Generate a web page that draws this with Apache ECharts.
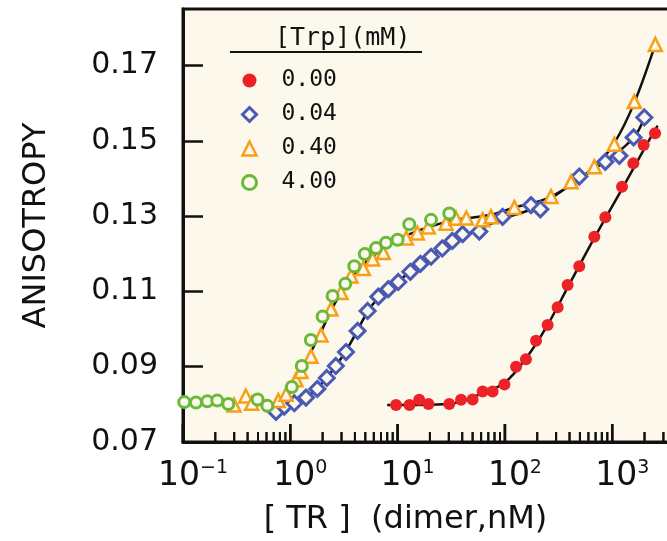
<!DOCTYPE html>
<html><head><meta charset="utf-8">
<script src="https://cdn.jsdelivr.net/npm/echarts@6/dist/echarts.min.js"></script>
<style>html,body{margin:0;padding:0;background:#fff}#c{width:667px;height:541px}</style>
</head><body><div id="c"></div>
<script>
// ---- data ----
const seriesNames = ['0.00', '0.04', '0.40', '4.00'];
const legendTitle = '[Trp](mM)';
const yTicks = [0.07, 0.09, 0.11, 0.13, 0.15, 0.17];
const xTicks = [0.1, 1, 10, 100, 1000];
const xExponents = ['\u22121', '0', '1', '2', '3'];
const xMinorTicks = [0.2,0.3,0.4,0.5,0.6,0.7,0.8,0.9, 2,3,4,5,6,7,8,9, 20,30,40,50,60,70,80,90, 200,300,400,500,600,700,800,900, 2000,3000];

const trp000 = [[9.66,0.0798],[12.9,0.0798],[15.9,0.0812],[19.4,0.0801],[30.3,0.0801],[39.0,0.0812],[50.0,0.0813],[62.0,0.0834],[76.8,0.0834],[98.9,0.0853],[127,0.0900],[157,0.0920],[195,0.0969],[250,0.1011],[310,0.1058],[384,0.1117],[493,0.1167],[681,0.1245],[863,0.1297],[1234,0.1378],[1574,0.1440],[1963,0.1489],[2506,0.1520]];
const trp004 = [[0.736,0.0780],[0.879,0.0794],[1.090,0.0803],[1.401,0.0818],[1.785,0.0841],[2.189,0.0870],[2.655,0.0902],[3.305,0.0939],[4.239,0.0995],[5.253,0.1048],[6.610,0.1086],[8.19,0.1106],[10.15,0.1125],[13.14,0.1152],[16.28,0.1173],[20.48,0.1192],[26.10,0.1214],[32.35,0.1234],[40.35,0.1252],[57.7,0.1259],[95.2,0.1298],[175.1,0.1329],[213.8,0.1318],[493.6,0.1405],[862.4,0.1444],[1164.6,0.1460],[1583,0.1509],[1992,0.1562]];
const trp040 = [[0.2987,0.0798],[0.3848,0.0822],[0.4377,0.0803],[0.7730,0.0810],[0.9138,0.0827],[1.130,0.0865],[1.258,0.0887],[1.559,0.0928],[1.932,0.0984],[2.394,0.1053],[2.969,0.1097],[3.679,0.1141],[4.788,0.1161],[5.848,0.1186],[7.357,0.1203],[12.05,0.1242],[15.26,0.1255],[19.32,0.1271],[28.26,0.1281],[35.02,0.1294],[43.69,0.1295],[61.96,0.1290],[74.23,0.1298],[122.4,0.1323],[268.9,0.1352],[413.0,0.1391],[681.1,0.1431],[1046,0.1491],[1607,0.1604],[2522,0.1756]];
const trp400 = [[0.1028,0.0806],[0.1322,0.0805],[0.1684,0.0808],[0.2088,0.0810],[0.2644,0.0801],[0.4956,0.0813],[0.6104,0.0796],[1.033,0.0846],[1.280,0.0902],[1.553,0.0971],[2.000,0.1033],[2.479,0.1088],[3.255,0.1120],[3.949,0.1167],[4.947,0.1199],[6.292,0.1215],[7.797,0.1229],[10.0,0.1237],[12.85,0.1278],[20.48,0.1290],[30.33,0.1307]];

// fitted curves
const fit000 = [[8.0,0.0798],[30,0.0801],[60,0.0828],[100,0.0858],[160,0.0925],[250,0.1011],[400,0.1120],[700,0.1248],[1250,0.1375],[2000,0.1480],[2650,0.1540]];
const fit004 = [[0.665,0.0777],[0.88,0.0794],[1.1,0.0803],[1.4,0.0818],[1.8,0.0843],[2.65,0.0902],[3.3,0.0942],[4.2,0.0995],[5.25,0.1046],[6.6,0.1082],[10,0.1125],[16,0.1172],[26,0.1214],[40,0.1245],[95,0.1292],[200,0.1325],[500,0.1400],[1000,0.1458],[1600,0.1510],[2000,0.1562]];
const fit040 = [[0.84,0.0800],[1.0,0.0832],[1.13,0.0865],[1.26,0.0893],[1.56,0.0940],[1.95,0.0995],[2.4,0.1050],[3.0,0.1098],[3.7,0.1138],[4.8,0.1172],[6,0.1195],[8,0.1220],[12,0.1248],[20,0.1272],[35,0.1290],[70,0.1302],[120,0.1322],[270,0.1352],[680,0.1430],[1050,0.1495],[1600,0.1600],[2520,0.1756]];

// ---- style / layout ----
const cream = '#fcf8ec';
const red = '#ec2227', blue = '#4a59b3', orange = '#f6a019', green = '#69b93a';
const font = 'DejaVu Sans';
const X_MIN = 0.1, X_MAX = 3606, Y_MIN = 0.07, Y_MAX = 0.185;
const GRID = {left: 183, top: 9, width: 489, height: 433};
const MAJOR_LEN = 18, MINOR_LEN = 10;   // tick lengths in px

const chart = echarts.init(document.getElementById('c'), null, {renderer: 'canvas'});

function fitSeries(name, data) {
  return {name: name, type: 'line', data: data, smooth: 0.35, showSymbol: false, silent: true, z: 2,
          lineStyle: {color: '#111', width: 2.5}};
}
// tick marks as broken line segments, positioned by the log x scale; pixel length -> y units
function tickLineSeries(name, values, lenPx, width) {
  const dy = lenPx * (Y_MAX - Y_MIN) / GRID.height;
  const data = [];
  values.forEach(function (v) { data.push([v, Y_MIN], [v, Y_MIN + dy], [v, '-']); });
  return {name: name, type: 'line', data: data, showSymbol: false, silent: true, clip: false,
          connectNulls: false, z: 3, lineStyle: {color: '#111', width: width, cap: 'butt'}};
}
const underline = {type: 'line', shape: {x1: 230, y1: 52, x2: 422, y2: 52}, style: {stroke: '#111', lineWidth: 2}};

try {
chart.setOption({
  animation: false,
  backgroundColor: '#ffffff',
  title: {text: legendTitle, left: 270, top: 21,
          textStyle: {fontFamily: 'DejaVu Sans Mono', fontSize: 25, fontWeight: 'normal', color: '#111'}},
  graphic: [underline],
  legend: {
    orient: 'vertical', left: 236, top: 64, itemWidth: 14, itemHeight: 14, itemGap: 11,
    textStyle: {fontFamily: 'DejaVu Sans Mono', fontSize: 23, color: '#111', padding: [0, 0, 0, 20], lineHeight: 19},
    data: [
      {name: seriesNames[0], icon: 'circle', itemStyle: {color: red, borderWidth: 0}},
      {name: seriesNames[1], icon: 'diamond', itemStyle: {color: cream, borderColor: blue, borderWidth: 3}},
      {name: seriesNames[2], icon: 'triangle', itemStyle: {color: cream, borderColor: orange, borderWidth: 2.5}},
      {name: seriesNames[3], icon: 'circle', itemStyle: {color: cream, borderColor: green, borderWidth: 3}}
    ]
  },
  grid: {left: GRID.left, top: GRID.top, width: GRID.width, height: GRID.height, show: true, backgroundColor: cream,
         borderColor: '#111', borderWidth: 3, containLabel: false, outerBoundsMode: 'none'},
  xAxis: {
    type: 'log', logBase: 10, min: X_MIN, max: X_MAX, position: 'bottom',
    name: '[ TR ]  (dimer,nM)', nameLocation: 'middle', nameGap: 62,
    nameTextStyle: {fontFamily: font, fontSize: 32, color: '#111', padding: [0, 44, 0, 0]},
    axisLine: {show: true, lineStyle: {color: '#111', width: 3}},
    axisTick: {show: false}, minorTick: {show: false},
    splitLine: {show: false}, minorSplitLine: {show: false},
    axisLabel: {
      customValues: xTicks, margin: 17,
      formatter: function (v) {
        let i = xTicks.findIndex(t => Math.abs(Math.log10(t) - Math.log10(v)) < 1e-6);
        return '{n|10}{s|' + (i >= 0 ? xExponents[i] : '') + '}';
      },
      rich: {
        n: {fontFamily: font, fontSize: 33, color: '#111', lineHeight: 34, padding: [0, 0, 0, 20]},
        s: {fontFamily: font, fontSize: 19, color: '#111', verticalAlign: 'top', lineHeight: 16}
      }
    }
  },
  yAxis: {
    type: 'value', min: Y_MIN, max: Y_MAX,
    name: 'ANISOTROPY', nameLocation: 'middle', nameRotate: 90, nameGap: 130,
    nameTextStyle: {fontFamily: font, fontSize: 32, color: '#111'},
    axisLine: {show: true, lineStyle: {color: '#111', width: 3}},
    axisTick: {show: true, inside: true, length: 20, lineStyle: {color: '#111', width: 2.5}, customValues: yTicks},
    splitLine: {show: false},
    axisLabel: {customValues: yTicks, margin: 25, fontFamily: font, fontSize: 30, color: '#111',
                formatter: v => v.toFixed(2)}
  },
  series: [
    fitSeries('fit 0.00', fit000),
    fitSeries('fit 0.04', fit004),
    fitSeries('fit 0.40', fit040),
    tickLineSeries('major ticks', xTicks, MAJOR_LEN, 2.5),
    tickLineSeries('minor ticks', xMinorTicks, MINOR_LEN, 2),
    {name: seriesNames[0], type: 'scatter', data: trp000, symbol: 'circle', symbolSize: 12, z: 5,
     itemStyle: {color: red, opacity: 1}},
    {name: seriesNames[1], type: 'scatter', data: trp004, symbol: 'diamond', symbolSize: 15, z: 5,
     itemStyle: {color: cream, borderColor: blue, borderWidth: 3, opacity: 1}},
    {name: seriesNames[2], type: 'scatter', data: trp040, symbol: 'triangle', symbolSize: 13, z: 6,
     itemStyle: {color: cream, borderColor: orange, borderWidth: 2.5, opacity: 1}},
    {name: seriesNames[3], type: 'scatter', data: trp400, symbol: 'circle', symbolSize: 11, z: 7,
     itemStyle: {color: cream, borderColor: green, borderWidth: 3, opacity: 1}}
  ]
});
} catch (e) { console.error(e); }

// same tick marks again as graphic lines placed through the chart's own scales (overlapping exactly)
function tickGraphics(values, len, width) {
  return values.map(function (v) {
    const p = chart.convertToPixel({gridIndex: 0}, [v, Y_MIN]);
    return {type: 'line', z: 100, silent: true,
            shape: {x1: p[0], y1: p[1], x2: p[0], y2: p[1] - len},
            style: {stroke: '#111', lineWidth: width}};
  });
}
try {
  chart.setOption({graphic: [underline].concat(tickGraphics(xTicks, MAJOR_LEN, 2.5), tickGraphics(xMinorTicks, MINOR_LEN, 2))});
} catch (e) { console.error(e); }
</script>
</body></html>
